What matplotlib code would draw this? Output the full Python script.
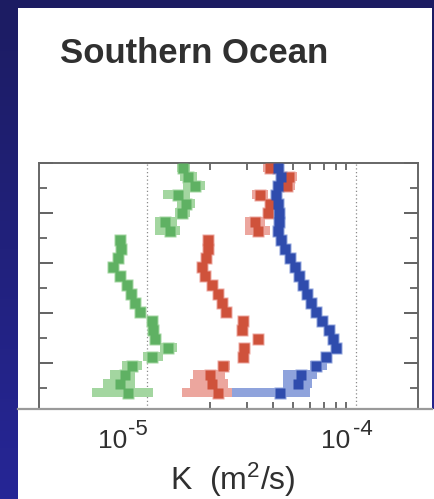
import numpy as np
import matplotlib
matplotlib.use("Agg")
import matplotlib.pyplot as plt
from matplotlib.patches import Rectangle
from matplotlib.lines import Line2D
from matplotlib.ticker import FixedLocator, MultipleLocator, NullFormatter

plt.rcParams['font.family'] = ['Liberation Sans', 'DejaVu Sans']
plt.rcParams['mathtext.fontset'] = 'custom'
plt.rcParams['mathtext.rm'] = 'Liberation Sans'
plt.rcParams['mathtext.it'] = 'Liberation Sans'

# depth bin centres (m) and bin thickness
depth_m = [90, 270, 450, 630, 810, 990, 1170, 1350, 1530, 1710, 1890, 2070, 2250,
           2430, 2610, 2790, 2970, 3150, 3330, 3510, 3690, 3870, 4050, 4230, 4410, 4590]
bin_m = 180

# diffusivity K (units of 1e-5 m^2/s): central estimate and range per depth bin
green_k = [1.49, 1.57, 1.70, 1.41, 1.54, 1.47, 1.22, 1.29, 0.743, 0.751, 0.726, 0.687, 0.743,
           0.802, 0.838, 0.876, 0.926, 1.06, 1.07, 1.09, 1.26, 1.06, 0.848, 0.785, 0.743, 0.811]
green_lo = [1.39, 1.44, 1.49, 1.19, 1.39, 1.36, 1.09, 1.09, 0.743, 0.751, 0.726, 0.687, 0.743,
            0.802, 0.838, 0.876, 0.926, 1.06, 1.07, 1.09, 1.15, 0.957, 0.759, 0.665, 0.616, 0.546]
green_hi = [1.61, 1.73, 1.90, 1.61, 1.70, 1.61, 1.39, 1.44, 0.743, 0.751, 0.726, 0.687, 0.743,
            0.802, 0.838, 0.876, 0.926, 1.06, 1.07, 1.09, 1.39, 1.19, 0.946, 0.876, 0.876, 1.07]

red_k = [3.88, 4.78, 4.68, 3.47, 3.88, 3.79, 3.29, 3.40, 1.96, 1.96, 1.92, 1.83, 1.90,
         2.05, 2.19, 2.29, 2.39, 2.88, 2.85, 3.40, 2.91, 2.88, 2.31, 2.00, 2.05, 2.19]
red_lo = [3.59, 4.42, 4.42, 3.18, 3.67, 3.59, 2.94, 2.94, 1.96, 1.96, 1.92, 1.83, 1.90,
          2.05, 2.19, 2.29, 2.39, 2.88, 2.85, 3.25, 2.91, 2.88, 2.19, 1.66, 1.61, 1.47]
red_hi = [4.19, 5.22, 5.11, 3.79, 4.10, 4.01, 3.67, 3.88, 1.96, 1.96, 1.92, 1.83, 1.90,
          2.05, 2.19, 2.29, 2.39, 2.88, 2.85, 3.55, 2.91, 2.88, 2.50, 2.36, 2.44, 2.58]

blue_k = [4.24, 4.38, 4.24, 4.14, 4.24, 4.28, 4.28, 4.24, 4.38, 4.57, 4.83, 5.11, 5.34,
          5.58, 5.83, 6.09, 6.44, 6.88, 7.43, 7.76, 8.02, 7.19, 6.44, 5.46, 5.28, 4.33]
blue_lo = [4.24, 4.38, 4.24, 4.14, 4.24, 4.28, 4.28, 4.24, 4.38, 4.57, 4.83, 5.11, 5.34,
           5.58, 5.83, 6.09, 6.44, 6.88, 7.43, 7.76, 8.02, 7.19, 6.03, 4.47, 4.47, 2.55]
blue_hi = [4.24, 4.38, 4.24, 4.14, 4.24, 4.28, 4.28, 4.24, 4.38, 4.57, 4.83, 5.11, 5.34,
           5.58, 5.83, 6.09, 6.44, 6.88, 7.43, 7.76, 8.02, 7.19, 7.27, 6.51, 6.16, 6.03]

x_tick_vals = [1e-5, 1e-4]
x_tick_exp = ['-5', '-4']
title = "Southern Ocean"
xlabel = r"K  (m$^{2}$/s)"

W, H = 434, 499
fig = plt.figure(figsize=(W / 100, H / 100), dpi=100)

def fx(px):
    return px / W

def fy(py):
    return 1 - py / H

# navy backdrop with a gentle vertical gradient
bg = fig.add_axes([0, 0, 1, 1], zorder=-10)
top_c = np.array([28, 28, 98]) / 255
bot_c = np.array([38, 38, 150]) / 255
t = np.linspace(0, 1, 256)[:, None, None]
grad = top_c * (1 - t) + bot_c * t
bg.imshow(np.repeat(grad, 2, axis=1), aspect='auto', extent=[0, 1, 0, 1], origin='upper')
bg.axis('off')

# white slide panels
fig.add_artist(Rectangle((fx(18), fy(409)), fx(432) - fx(18), fy(8) - fy(409),
                         transform=fig.transFigure, facecolor='white', edgecolor='none', zorder=-5))
fig.add_artist(Rectangle((fx(18), 0), 1 - fx(18), fy(409),
                         transform=fig.transFigure, facecolor='white', edgecolor='none', zorder=-5))

ax = fig.add_axes([fx(39), fy(409), fx(418) - fx(39), fy(163) - fy(409)])
ax.set_facecolor('none')

series = [
    (green_k, green_lo, green_hi, '#a3d6a0', '#5fb163'),
    (red_k, red_lo, red_hi, '#eca69e', '#cf523b'),
    (blue_k, blue_lo, blue_hi, '#8fa3dc', '#2f4cad'),
]
for k, lo, hi, light, dark in series:
    k = np.array(k) * 1e-5
    lo = np.array(lo) * 1e-5
    hi = np.array(hi) * 1e-5
    ax.barh(depth_m, hi - lo, left=lo, height=bin_m, color=light, linewidth=0, zorder=2)
    # soft halo, then the solid square for each bin
    ax.plot(k, depth_m, 's', ms=8.0, color=light, mec='none', zorder=2.5)
    ax.plot(k, depth_m, 's', ms=6.6, color=dark, mec='none', zorder=3)

ax.set_xscale('log')
ax.set_xlim(10 ** -5.5167, 10 ** -3.7033)
ax.set_ylim(4920, 0)

for xv in x_tick_vals:
    ax.axvline(xv, color='#8a8a8a', lw=0.9, ls=(0, (1, 2)), zorder=1)

ax.xaxis.set_major_locator(FixedLocator(x_tick_vals))
ax.xaxis.set_minor_locator(FixedLocator([m * 1e-5 for m in range(2, 10)]))
ax.xaxis.set_major_formatter(NullFormatter())
ax.xaxis.set_minor_formatter(NullFormatter())
ax.yaxis.set_major_locator(MultipleLocator(1000))
ax.yaxis.set_minor_locator(MultipleLocator(500))
ax.yaxis.set_major_formatter(NullFormatter())

ax.tick_params(axis='x', which='major', length=0, top=True, bottom=True)
ax.tick_params(axis='x', which='minor', direction='in', length=5, width=1.2,
               color='#555555', top=True, bottom=True)
ax.tick_params(axis='y', which='major', direction='in', length=10, width=1.3,
               color='#555555', left=True, right=True, labelleft=False)
ax.tick_params(axis='y', which='minor', direction='in', length=5.8, width=1.2,
               color='#555555', left=True, right=True)

for s in ['top', 'left', 'right']:
    ax.spines[s].set_color('#666666')
    ax.spines[s].set_linewidth(1.4)
ax.spines['bottom'].set_visible(False)

# seam line across the slide
fig.add_artist(Line2D([fx(18), fx(432)], [fy(409), fy(409)], transform=fig.transFigure,
                      color='#9a9a9a', lw=1.6, zorder=6))

# tick labels as 10 with raised exponent
txt_c = '#303030'
offsets = [(-20, -19), (-6, -3)]
for xv, ex, (dbase, dexp) in zip(x_tick_vals, x_tick_exp, offsets):
    ax.annotate('10', xy=(xv, 0), xycoords=('data', 'axes fraction'),
                xytext=(dbase, -39), textcoords='offset pixels',
                ha='right', va='baseline', fontsize=19, color=txt_c, annotation_clip=False)
    ax.annotate(ex, xy=(xv, 0), xycoords=('data', 'axes fraction'),
                xytext=(dexp, -26), textcoords='offset pixels',
                ha='left', va='baseline', fontsize=16, color=txt_c, annotation_clip=False)

fig.text(fx(233), fy(490), xlabel, ha='center', va='baseline', fontsize=23, color=txt_c)
fig.text(fx(60), fy(63), title, ha='left', va='baseline', fontsize=25,
         fontweight='bold', color=txt_c)

fig.savefig('out.png', dpi=100)
